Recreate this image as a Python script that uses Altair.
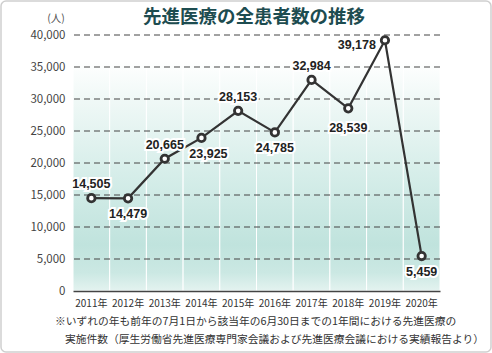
import altair as alt
import pandas as pd

# ---- data ----
years = ["2011年", "2012年", "2013年", "2014年", "2015年", "2016年", "2017年", "2018年", "2019年", "2020年"]
patients = [14505, 14479, 20665, 23925, 28153, 24785, 32984, 28539, 39178, 5459]
label_side = ["above", "below", "above", "below_r", "above", "below", "above", "below_far", "left", "below"]
y_ticks = [0, 5000, 10000, 15000, 20000, 25000, 30000, 35000, 40000]
grid_lines = [5000, 10000, 15000, 20000, 25000, 30000, 35000, 40000]
title_text = ["先進医療の全患者数の推移"]
unit_text = ["(人)"]
note1 = ["※いずれの年も前年の7月1日から該当年の6月30日までの1年間における先進医療の"]
note2 = ["実施件数（厚生労働省先進医療専門家会議および先進医療会議における実績報告より）"]

df = pd.DataFrame({
    "year": years,
    "n": patients,
    "side": label_side,
    "label": [f"{v:,}" for v in patients],
    "top": [36000] * len(years),
    "bottom": [0] * len(years),
})
grid_df = pd.DataFrame({"g": grid_lines})

JP = "Noto Sans CJK JP"
NUM = "Liberation Sans"

x_enc = alt.X("year:O", sort=years,
              scale=alt.Scale(paddingInner=0, paddingOuter=0),
              axis=alt.Axis(title=None, labelAngle=0, ticks=False, domain=True,
                            domainColor="#444", domainWidth=1.5, labelFont=JP,
                            labelFontSize=10, labelColor="#333", labelPadding=7,
                            grid=False, zindex=1))
y_scale = alt.Scale(domain=[0, 40000], nice=False)
y_axis = alt.Axis(title=None, values=y_ticks, format=",d", ticks=False,
                  domain=False, grid=False, labelFont=JP, labelFontSize=11.5,
                  labelColor="#444", labelPadding=8)

base = alt.Chart(df)

grad = alt.LinearGradient(
    gradient="linear", x1=0, y1=0, x2=0, y2=1,
    stops=[
        alt.GradientStop(color="#ffffff", offset=0),
        alt.GradientStop(color="#eff8f6", offset=0.18),
        alt.GradientStop(color="#d7eeea", offset=0.48),
        alt.GradientStop(color="#c0e3dd", offset=0.8),
        alt.GradientStop(color="#cbe8e3", offset=0.92),
        alt.GradientStop(color="#e4f3f0", offset=1),
    ],
)

bg = base.mark_rect(color=grad, stroke="white", strokeWidth=1).encode(
    x=x_enc,
    y=alt.Y("top:Q", scale=y_scale, axis=y_axis),
    y2="bottom:Q",
)

grid = alt.Chart(grid_df).mark_rule(color="#444", strokeWidth=1, strokeDash=[6, 4]).encode(
    y=alt.Y("g:Q", scale=y_scale, axis=y_axis)
)

y_enc = alt.Y("n:Q", scale=y_scale, axis=y_axis)
line = base.mark_line(color="#333", strokeWidth=2.2).encode(x=x_enc, y=y_enc)
pts = base.mark_point(shape="circle", filled=True, fill="white", stroke="#333",
                      strokeWidth=2.8, size=55, opacity=1).encode(x=x_enc, y=y_enc)


def labels(side, **kw):
    halo = base.transform_filter(alt.datum.side == side).mark_text(
        font=NUM, fontWeight="bold", fontSize=12.5, stroke="white", strokeWidth=4,
        fill="white", **kw).encode(x=x_enc, y=y_enc, text="label:N")
    txt = base.transform_filter(alt.datum.side == side).mark_text(
        font=NUM, fontWeight="bold", fontSize=12.5, color="#222", **kw).encode(
        x=x_enc, y=y_enc, text="label:N")
    return [halo, txt]


lab = (labels("above", dy=-14) + labels("below", dy=16)
       + labels("below_r", dx=7, dy=16) + labels("below_far", dy=20)
       + labels("left", align="right", dx=-9, dy=5))

title = alt.Chart(pd.DataFrame({"t": title_text})).mark_text(
    font=JP, fontSize=18.5, fontWeight="bold", color="#1d4c50").encode(
    text="t:N", x=alt.value(181), y=alt.value(-18))
unit = alt.Chart(pd.DataFrame({"t": unit_text})).mark_text(
    font=JP, fontSize=10.5, color="#555").encode(
    text="t:N", x=alt.value(-17), y=alt.value(-16))
n1 = alt.Chart(pd.DataFrame({"t": note1})).mark_text(
    font=JP, fontSize=10.75, color="#333", align="left").encode(
    text="t:N", x=alt.value(-18), y=alt.value(287))
n2 = alt.Chart(pd.DataFrame({"t": note2})).mark_text(
    font=JP, fontSize=10.75, color="#333", align="left").encode(
    text="t:N", x=alt.value(-8), y=alt.value(305))
frame = alt.Chart(pd.DataFrame({"t": [""]})).mark_rect(
    fill="transparent", stroke="#cfcfcf", strokeWidth=1.5, cornerRadius=5).encode(
    x=alt.value(-72), x2=alt.value(418), y=alt.value(-34), y2=alt.value(317))

chart = alt.layer(frame, bg, grid, line, pts, *lab, title, unit, n1, n2).properties(
    width=367, height=256,
    padding={"left": 73, "top": 35, "right": 52, "bottom": 62},
    autosize=alt.AutoSizeParams(type="none"),
).configure_view(stroke=None)

chart.save("out.html", embed_options={"renderer": "svg", "actions": False})
